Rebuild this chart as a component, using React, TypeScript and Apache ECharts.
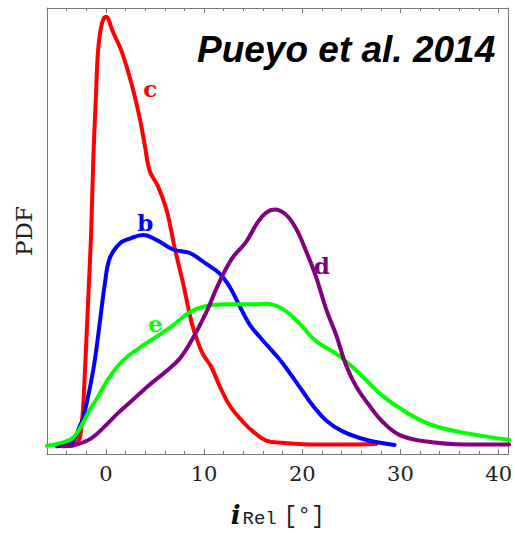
import React, { useEffect, useRef } from "react";
import * as echarts from "echarts";

// Inclination PDFs of planets b–e, [i_Rel (deg), PDF] pairs
const curveC: [number, number][] = [
  [-4.3, 0], [-3.3, 0.0002], [-2.8, 0.0012], [-2.6, 0.0025], [-2.35, 0.008], [-2.2, 0.014],
  [-1.76, 0.0357], [-1.5, 0.0489], [-1.29, 0.065], [-1.02, 0.0797], [-0.78, 0.0907],
  [-0.4, 0.0965], [0, 0.098], [0.74, 0.0944], [1.6, 0.0901], [2.61, 0.0827], [3.46, 0.0747],
  [3.96, 0.0687], [4.47, 0.0628], [5.31, 0.0593], [6.17, 0.054], [6.68, 0.0489], [7.01, 0.0452],
  [7.86, 0.0372], [8.71, 0.0284], [9.22, 0.0247], [9.89, 0.021], [10.74, 0.0181], [11.59, 0.0137],
  [12.6, 0.0093], [13.95, 0.0056], [14.97, 0.0034], [16.33, 0.0013], [17.99, 0.0008],
  [21.4, 0.0004], [24.8, 0.0004], [27.5, 0.0005],
];

const curveB: [number, number][] = [
  [-5, 0], [-4.2, 0.0003], [-3.32, 0.0012], [-2.64, 0.0047], [-2.31, 0.0064], [-1.29, 0.0174],
  [-0.61, 0.0284], [-0.1, 0.0372], [0.41, 0.043], [1.42, 0.0463], [2.44, 0.0474], [3.79, 0.0482],
  [5.15, 0.0471], [6.84, 0.0449], [8.54, 0.0441], [10.23, 0.0416], [11.59, 0.0394], [12.6, 0.0364],
  [13.62, 0.032], [14.63, 0.0278], [15.65, 0.025], [17.0, 0.0216], [18.02, 0.0189],
  [20.05, 0.0125], [21.07, 0.0093], [22.43, 0.0059], [24.12, 0.0034],
  [26.49, 0.0015], [29.4, 0.0003],
];

const curveE: [number, number][] = [
  [-6, 0.0001], [-4.5, 0.0008], [-3.32, 0.002], [-2.47, 0.0048], [-1.6, 0.0085], [-0.95, 0.0108],
  [0.41, 0.0159], [1.76, 0.0196], [3.46, 0.0225], [5.15, 0.025], [6.84, 0.0276], [8.54, 0.0306],
  [10.23, 0.032], [12.27, 0.0324], [15.32, 0.0324], [16.33, 0.0325], [18.02, 0.0313],
  [19.72, 0.028], [21.4, 0.024], [23.78, 0.0206], [25.81, 0.0166], [28.18, 0.0115],
  [30.56, 0.0078], [33.26, 0.0048], [36.66, 0.003], [41.06, 0.0015],
];

const curveD: [number, number][] = [
  [-4.5, 0], [-3.0, 0.0004], [-1.5, 0.0018], [0, 0.0048], [1.2, 0.0075], [2.44, 0.01],
  [4.27, 0.0137], [6.17, 0.0172], [7.52, 0.02], [8.87, 0.0247], [10.23, 0.0306], [11.38, 0.0366],
  [12.8, 0.0427], [14.3, 0.0467], [15.45, 0.0511], [16.33, 0.0533], [17.17, 0.054],
  [18.36, 0.0528], [19.38, 0.0496], [20.4, 0.0445], [21.41, 0.0386], [22.43, 0.0313],
  [23.45, 0.0254], [24.46, 0.0185], [25.48, 0.0137], [26.83, 0.0093], [28.18, 0.0056],
  [29.88, 0.0026], [32.25, 0.0012], [36.66, 0.0004], [41.06, 0.0004],
];

// Curve names, colours and where each letter tag sits (data coordinates)
const planetNames = ["c", "b", "e", "d"];
const planetColors = ["#ff0000", "#0000ff", "#00ff00", "#800080"];
const tagPositions: [number, number][] = [
  [4.52, 0.0817],
  [4.01, 0.0511],
  [5.03, 0.028],
  [22.0, 0.0412],
];

const xMin = -6;
const xMax = 41;
const yMin = -0.00176;
const yMax = 0.1;

const TITLE = "Pueyo et al. 2014";
const SLAB = "'DejaVu Serif', 'Liberation Serif', serif";
const MONO = "'Liberation Mono', 'DejaVu Sans Mono', monospace";
const FRAME = "#777777";

export default function App() {
  const ref = useRef<HTMLDivElement>(null);

  useEffect(() => {
    if (!ref.current) return;
    const chart = echarts.init(ref.current, undefined, { renderer: "svg" });

    const curves = [curveC, curveB, curveE, curveD];

    const series = curves.map((data, i) => ({
      type: "line",
      name: planetNames[i],
      data,
      xAxisIndex: 0,
      yAxisIndex: 0,
      smooth: 0.4,
      showSymbol: false,
      symbol: "none",
      clip: true,
      lineStyle: { color: planetColors[i], width: 4, cap: "round", join: "round" },
      markPoint: {
        symbol: "circle",
        symbolSize: 0,
        silent: true,
        label: {
          show: true,
          position: "inside",
          formatter: planetNames[i],
          color: planetColors[i],
          fontFamily: SLAB,
          fontWeight: "bold",
          fontSize: 23,
        },
        data: [{ coord: tagPositions[i] }],
      },
    }));

    const majorAxis = (position: "top" | "bottom", withLabels: boolean) => ({
      type: "value",
      position,
      min: xMin,
      max: xMax,
      minInterval: 10,
      maxInterval: 10,
      axisLine: { show: true, onZero: false, lineStyle: { color: FRAME, width: 1 } },
      axisTick: { show: true, inside: true, length: 5, lineStyle: { color: FRAME } },
      splitLine: { show: false },
      axisLabel: withLabels
        ? {
            show: true,
            showMinLabel: false,
            showMaxLabel: false,
            margin: 9,
            fontFamily: SLAB,
            fontSize: 21,
            color: "#222",
          }
        : { show: false },
    });

    const minorAxis = (position: "top" | "bottom") => ({
      type: "value",
      position,
      min: xMin,
      max: xMax,
      interval: 2,
      axisLine: { show: false, onZero: false },
      axisTick: { show: true, inside: true, length: 3, lineStyle: { color: FRAME } },
      splitLine: { show: false },
      axisLabel: { show: false },
    });

    const bottomAxis: any = majorAxis("bottom", true);
    bottomAxis.name = "{i|i}{sub|Rel}  {u|[°]}";
    bottomAxis.nameLocation = "middle";
    bottomAxis.nameGap = 36;
    bottomAxis.nameTextStyle = {
      color: "#111",
      rich: {
        i: {
          fontFamily: SLAB, fontWeight: "bold", fontStyle: "italic", fontSize: 26,
          lineHeight: 38, verticalAlign: "bottom", color: "#111",
        },
        sub: {
          fontFamily: MONO, fontSize: 19, lineHeight: 19, verticalAlign: "bottom",
          color: "#222", padding: [0, 0, 0, 2],
        },
        u: {
          fontFamily: MONO, fontSize: 23, lineHeight: 38, verticalAlign: "bottom",
          color: "#222",
        },
      },
    };

    chart.setOption({
      animation: false,
      backgroundColor: "#ffffff",
      title: {
        text: TITLE,
        left: 192,
        top: 26,
        textStyle: {
          fontFamily: "'Liberation Sans', Arial, sans-serif",
          fontWeight: "bold",
          fontStyle: "italic",
          fontSize: 37,
          color: "#000",
        },
      },
      grid: { left: 47, right: 5, top: 8, bottom: 63, containLabel: false },
      xAxis: [bottomAxis, minorAxis("bottom"), majorAxis("top", false), minorAxis("top")],
      yAxis: [
        {
          type: "value",
          position: "left",
          min: yMin,
          max: yMax,
          name: "PDF",
          nameLocation: "middle",
          nameGap: 12,
          nameRotate: 90,
          nameTextStyle: { fontFamily: SLAB, fontSize: 23, color: "#222" },
          axisLine: { show: true, onZero: false, lineStyle: { color: FRAME, width: 1 } },
          axisTick: { show: false },
          axisLabel: { show: false },
          splitLine: { show: false },
        },
        {
          type: "value",
          position: "right",
          min: yMin,
          max: yMax,
          axisLine: { show: true, onZero: false, lineStyle: { color: FRAME, width: 1 } },
          axisTick: { show: false },
          axisLabel: { show: false },
          splitLine: { show: false },
        },
      ],
      series,
    });

    return () => chart.dispose();
  }, []);

  return (
    <div
      ref={ref}
      style={{ position: "absolute", left: 0, top: 0, width: 515, height: 533 }}
    />
  );
}
